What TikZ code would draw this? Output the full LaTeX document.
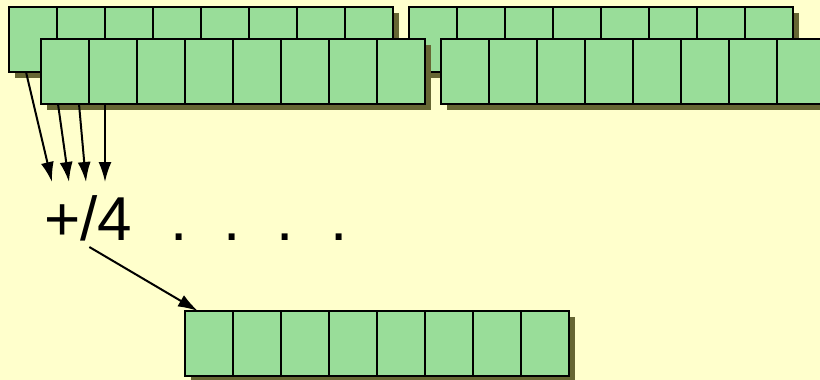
\documentclass[tikz,border=0pt]{standalone}
\usepackage{fontspec}
\setmainfont{Liberation Sans}
\usetikzlibrary{arrows.meta,shadows}
\definecolor{paper}{HTML}{FFFFCC}
\definecolor{cellgreen}{HTML}{99DD99}
\definecolor{boxshadow}{HTML}{666633}

\begin{document}
\begin{tikzpicture}[x=0.5pt,y=-0.5pt,>={Latex[length=10pt,width=6.5pt]},
cell/.style={draw,line width=1pt,fill=cellgreen,minimum width=24pt,minimum height=32.5pt,inner sep=0pt,outer sep=0pt,
  drop shadow={shadow xshift=3pt,shadow yshift=-3pt,fill=boxshadow,opacity=1}},
f/.style={->,line width=1pt},big/.style={font=\fontsize{31}{36}\selectfont,inner sep=0pt}]
\fill[paper] (0,0) rectangle (820,380);
\clip (0,0) rectangle (820,380);
% back row, front row, result
\foreach \i in {1,...,8} {
  \node[cell] (topa-\i) at ({33+48*(\i-1)},39.5) {};
  \node[cell] (topb-\i) at ({433+48*(\i-1)},39.5) {};
}
\foreach \i in {1,...,8} {
  \node[cell] (fronta-\i) at ({65+48*(\i-1)},71.5) {};
  \node[cell] (frontb-\i) at ({465+48*(\i-1)},71.5) {};
}
\foreach \i in {1,...,8}
  \node[cell] (out-\i) at ({209+48*(\i-1)},343.5) {};
\node[big,anchor=base west] (sum) at (44,240) {+/4};
\node[big,anchor=base west] (dots) at (170,240) {.\kern18pt.\kern18pt.\kern18pt.};
\coordinate (in1) at (52,182); \coordinate (in2) at (69,182);
\coordinate (in3) at (86,182); \coordinate (in4) at (105,182);
\draw[f] ([xshift=-3.5pt]topa-1.south)--(in1);
\draw[f] ([xshift=-3.5pt]fronta-1.south)--(in2);
\draw[f] ([xshift=7pt]fronta-1.south)--(in3);
\draw[f] ([xshift=-4pt]fronta-2.south)--(in4);
\draw[f] ([xshift=0.5pt,yshift=-3pt]sum.south)--([xshift=-5.5pt]out-1.north);
\end{tikzpicture}
\end{document}
